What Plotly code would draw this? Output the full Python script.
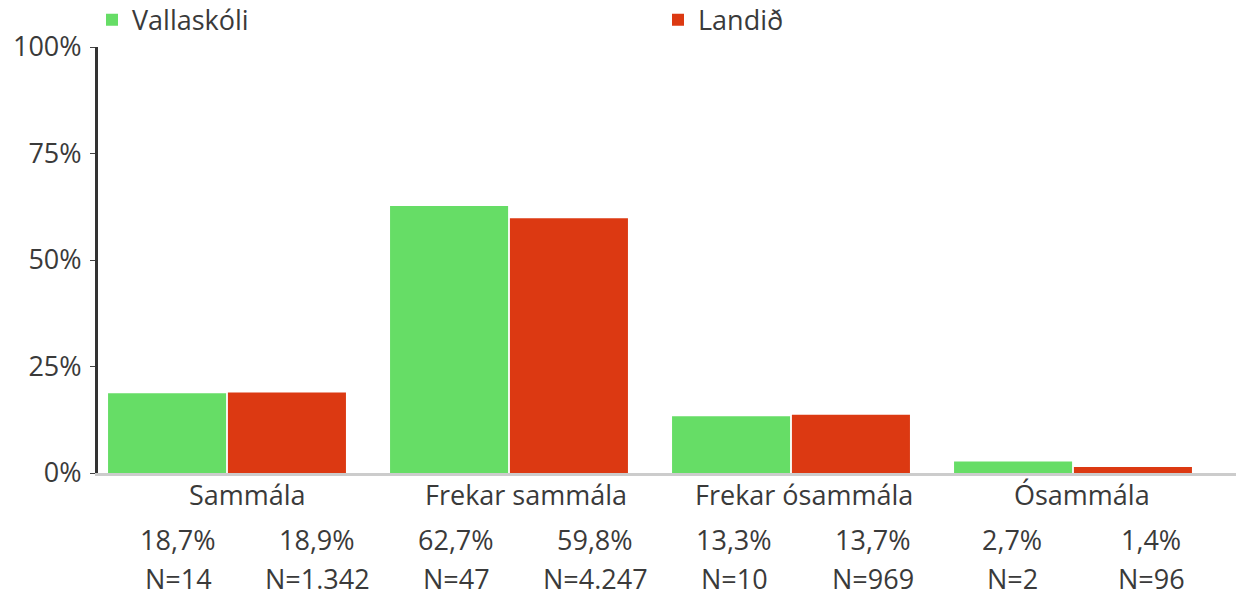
import plotly.graph_objects as go

categories = ["Sammála", "Frekar sammála", "Frekar ósammála", "Ósammála"]
series_names = ["Vallaskóli", "Landið"]
vallaskoli_pct = [18.7, 62.7, 13.3, 2.7]
landid_pct = [18.9, 59.8, 13.7, 1.4]
vallaskoli_n = [14, 47, 10, 2]
landid_n = [1342, 4247, 969, 96]
y_ticks = [0, 25, 50, 75, 100]

GREEN = "#66dd66"
RED = "#dc3912"
TXT = "#3a3a3a"
FONT = "Open Sans"
FS = 27

def pct(v):
    return f"{v:.1f}".replace(".", ",") + "%"

def nfmt(n):
    return "N=" + f"{n:,}".replace(",", ".")

xi = list(range(len(categories)))

fig = go.Figure()
fig.add_trace(go.Bar(x=xi, y=vallaskoli_pct, name=series_names[0], legend="legend",
                     marker=dict(color=GREEN, line=dict(width=0))))
fig.add_trace(go.Bar(x=xi, y=landid_pct, name=series_names[1], legend="legend2",
                     marker=dict(color=RED, line=dict(width=0))))

# the page body margin is removed (see post_script), so the figure fills the window
W, H = 1236, 599
plot_left, plot_top, plot_bottom, plot_right = 98, 47, 473.5, 1236
L = plot_left
T = plot_top
B = H - plot_bottom
R = W - plot_right
plot_w = plot_right - plot_left

# category axis: centers at px 227 + 282*i
cat_c0, cat_step = 227, 282
x_range = [(plot_left - cat_c0) / cat_step, (plot_right - cat_c0) / cat_step]
# table columns: centers at px 178 + 139*k
col_c0, col_step = 178, 139
x2_range = [(plot_left - col_c0) / col_step, (plot_right - col_c0) / col_step]

annotations = []
for i, c in enumerate(categories):
    annotations.append(dict(x=2 * i + 0.5, y=-0.051, xref="x2", yref="paper",
                            text=c, showarrow=False, xanchor="center", yanchor="middle",
                            font=dict(family=FONT, size=FS, color=TXT)))
    for j, (p, n) in enumerate([(vallaskoli_pct[i], vallaskoli_n[i]), (landid_pct[i], landid_n[i])]):
        k = 2 * i + j
        annotations.append(dict(x=k, y=-0.155, xref="x2", yref="paper", text=pct(p),
                                showarrow=False, xanchor="center", yanchor="middle",
                                font=dict(family=FONT, size=FS, color=TXT)))
        annotations.append(dict(x=k, y=-0.248, xref="x2", yref="paper", text=nfmt(n),
                                showarrow=False, xanchor="center", yanchor="middle",
                                font=dict(family=FONT, size=FS, color=TXT)))

legend_common = dict(orientation="h", y=1.063, xanchor="left", yanchor="middle",
                     font=dict(family=FONT, size=FS, color=TXT), bgcolor="rgba(0,0,0,0)")

fig.update_layout(
    width=W, height=H,
    margin=dict(l=L, r=R, t=T, b=B, pad=0, autoexpand=False),
    paper_bgcolor="white", plot_bgcolor="white",
    barmode="group", bargap=0.15, bargroupgap=0.015,
    font=dict(family=FONT, size=FS, color=TXT),
    showlegend=True,
    legend=dict(x=(92 - plot_left) / plot_w, **legend_common),
    legend2=dict(x=(658 - plot_left) / plot_w, **legend_common),
    xaxis=dict(range=x_range, showticklabels=False, ticks="", showgrid=False,
               zeroline=False, showline=True, linecolor="#cccccc", linewidth=3,
               fixedrange=True),
    xaxis2=dict(range=x2_range, overlaying="x", visible=False, domain=[0, 1],
                anchor="y", fixedrange=True),
    yaxis=dict(range=[0, 100], tickvals=y_ticks, ticktext=[f"{v}%" for v in y_ticks],
               showgrid=False, zeroline=False, showline=True, linecolor="#333333",
               linewidth=3, ticks="outside", ticklen=5, tickwidth=1, tickcolor="#444444",
               ticklabelstandoff=3,
               tickfont=dict(family=FONT, size=FS, color=TXT), fixedrange=True),
    annotations=annotations,
)

fig.write_html("out.html",
               config={"displayModeBar": False},
               post_script="document.body.style.margin='0';document.body.style.overflow='hidden';")
